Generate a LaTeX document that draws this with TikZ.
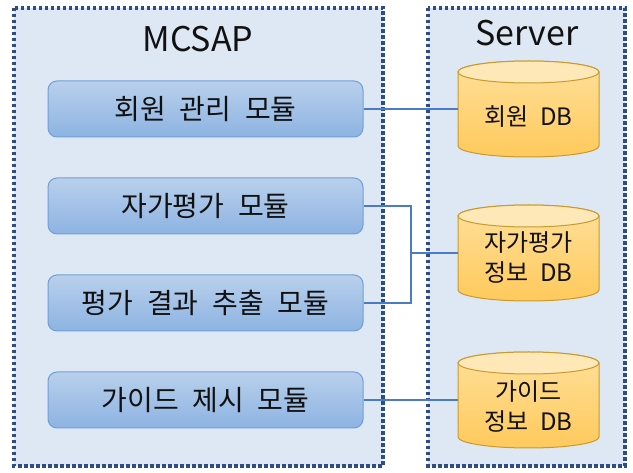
\documentclass[tikz,border=0pt]{standalone}
\usepackage{fontspec}
\setmainfont{Noto Sans CJK KR}[WordSpace=2.2]
\definecolor{contfill}{HTML}{DEE8F4}
\definecolor{contborder}{HTML}{2E4D87}
\definecolor{modtop}{HTML}{B9D0EC}
\definecolor{modbot}{HTML}{8DB3E2}
\definecolor{modborder}{HTML}{6F9FD8}
\definecolor{dbtop}{HTML}{FFE09A}
\definecolor{dbbot}{HTML}{FFC95C}
\definecolor{dbcap}{HTML}{FFE8B8}
\definecolor{dbborder}{HTML}{C99A2E}
\definecolor{lineblue}{HTML}{4A7BC8}
\definecolor{txt}{HTML}{111111}
\newcommand\mydbcyl[2]{%
  \path[draw=dbborder, line width=1pt, top color=dbtop, bottom color=dbbot]
    (458,#1+11) -- (458,#2-11)
    arc[start angle=180, end angle=0, x radius=70.5, y radius=11]
    -- (599,#1+11)
    arc[start angle=0, end angle=-180, x radius=70.5, y radius=11] -- cycle;
  \path[draw=dbborder, line width=1pt, fill=dbcap] (528.5,#1+11) ellipse[x radius=70.5, y radius=11];
}
\begin{document}
\begin{tikzpicture}[x=1pt,y=-1pt,
  container/.style={draw=contborder, line width=3.5pt, dash pattern=on 3.5pt off 2.5pt, fill=contfill},
  titletext/.style={font=\fontsize{34}{38}\selectfont, text=txt, inner sep=0pt},
  module/.style={draw=modborder, line width=1pt, top color=modtop, bottom color=modbot, rounded corners=9pt,
    minimum width=315pt, minimum height=56pt, inner sep=0pt, font=\fontsize{28}{32}\selectfont, text=txt},
  dbbox/.style={draw=none, minimum width=141pt, minimum height=96pt, inner sep=0pt},
  dbtext/.style={font=\fontsize{24}{30}\selectfont, align=center, text=txt, inner sep=0pt},
  conn/.style={draw=lineblue, line width=1.2pt}
]
\useasboundingbox (0,0) rectangle (633,473);
\draw[container] (14,8) rectangle (383,466);
\draw[container] (428,8) rectangle (625,466);
\node[titletext] (mcsap) at (198,39) {MCSAP};
\node[titletext] (server) at (527,33) {Server};
\node[module] (m1) at (205.5,109) {회원 관리 모듈};
\node[module] (m2) at (205.5,206) {자가평가 모듈};
\node[module] (m3) at (205.5,303) {평가 결과 추출 모듈};
\node[module] (m4) at (205.5,400) {가이드 제시 모듈};
\mydbcyl{61}{157}
\mydbcyl{205}{301}
\mydbcyl{352}{448}
\node[dbbox] (db1) at (528.5,109) {};
\node[dbbox] (db2) at (528.5,253) {};
\node[dbbox] (db3) at (528.5,400) {};
\node[dbtext] (t1) at (528.5,117) {회원 DB};
\node[dbtext] (t2) at (528.5,258) {자가평가\\정보 DB};
\node[dbtext] (t3) at (528.5,407) {가이드\\정보 DB};
\coordinate (jx) at (411,253);
\draw[conn] (m1.east) -- (m1.east -| db1.west);
\draw[conn] (m2.east) -- (m2.east -| jx) -- (m3.east -| jx) -- (m3.east);
\draw[conn] (jx) -- (db2.west);
\draw[conn] (m4.east) -- (m4.east -| db3.west);
\end{tikzpicture}
\end{document}
